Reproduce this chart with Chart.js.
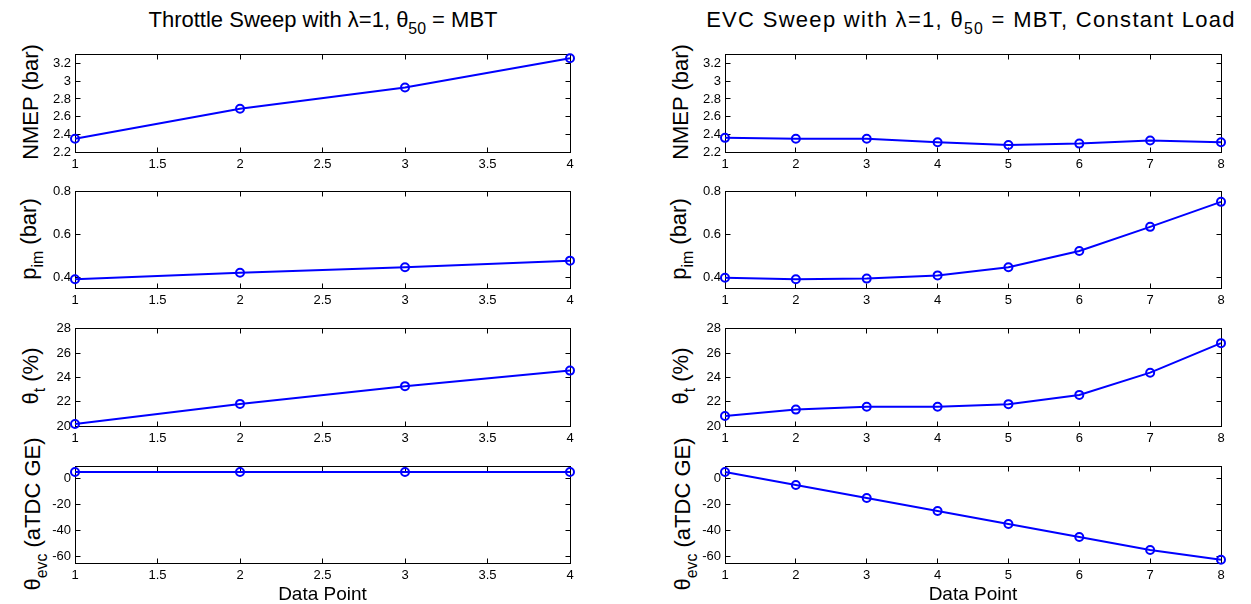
<!DOCTYPE html>
<html>
<head>
<meta charset="utf-8">
<script src="https://cdn.jsdelivr.net/npm/chart.js@4/dist/chart.umd.min.js"></script>
<style>
  body { margin: 0; background: #fff; width: 1251px; height: 604px; position: relative; overflow: hidden; font-family: "Liberation Sans", Arial, sans-serif; color: #000; }
  canvas { position: absolute; }
  .title, .ylab, .xlab { position: absolute; white-space: nowrap; font-size: 22px; line-height: 1; }
  .title { transform: translateX(-50%); }
  .ylab { transform: translate(-50%, -50%) rotate(-90deg); }
  sub { font-size: 0.72em; vertical-align: -0.42em; line-height: 0; }
</style>
</head>
<body>
<div class="title" style="left:323px; top:9px">Throttle Sweep with λ=1, θ<sub>50</sub> = MBT</div>
<div class="title" style="left:971px; top:9px; letter-spacing:1.3px">EVC Sweep with λ=1, θ<sub>50</sub> = MBT, Constant Load</div>

<div class="ylab" style="left:31px; top:102px">NMEP (bar)</div>
<div class="ylab" style="left:29px; top:239px">p<sub>im</sub> (bar)</div>
<div class="ylab" style="left:31px; top:376px">θ<sub>t</sub> (%)</div>
<div class="ylab" style="left:33px; top:514px">θ<sub>evc</sub> (aTDC GE)</div>

<div class="ylab" style="left:681px; top:102px">NMEP (bar)</div>
<div class="ylab" style="left:679px; top:239px">p<sub>im</sub> (bar)</div>
<div class="ylab" style="left:681px; top:376px">θ<sub>t</sub> (%)</div>
<div class="ylab" style="left:683px; top:514px">θ<sub>evc</sub> (aTDC GE)</div>

<canvas id="t1"></canvas><canvas id="t2"></canvas><canvas id="t3"></canvas><canvas id="t4"></canvas>
<canvas id="e1"></canvas><canvas id="e2"></canvas><canvas id="e3"></canvas><canvas id="e4"></canvas>

<script>
// data points (x)
const throttlePoints = [1, 2, 3, 4];
const evcPoints = [1, 2, 3, 4, 5, 6, 7, 8];

// throttle sweep
const throttleNmep = [2.35, 2.69, 2.93, 3.26];
const throttlePim = [0.391, 0.421, 0.447, 0.478];
const throttleThetaT = [20.16, 21.82, 23.28, 24.56];
const throttleThetaEvc = [5, 5, 5, 5];

// evc sweep
const evcNmep = [2.36, 2.35, 2.35, 2.31, 2.28, 2.295, 2.33, 2.31];
const evcPim = [0.398, 0.391, 0.394, 0.409, 0.447, 0.523, 0.636, 0.753];
const evcThetaT = [20.83, 21.35, 21.59, 21.59, 21.8, 22.56, 24.39, 26.82];
const evcThetaEvc = [5, -5, -15, -25, -35, -45, -55, -62.5];

// tick labels
const throttleXTicks = [1, 1.5, 2, 2.5, 3, 3.5, 4];
const evcXTicks = [1, 2, 3, 4, 5, 6, 7, 8];
const nmepTicks = [2.2, 2.4, 2.6, 2.8, 3, 3.2];
const pimTicks = [0.4, 0.6, 0.8];
const thetaTTicks = [20, 22, 24, 26, 28];
const thetaEvcTicks = [-60, -40, -20, 0];

const FONT = "'Liberation Sans', Arial, sans-serif";
const Y_AXIS_W = 50, PAD_TOP = 10, PAD_RIGHT = 15;

// matlab style box with inward ticks on all sides
const boxPlugin = {
  id: 'box',
  beforeDatasetsDraw(chart) {
    const { ctx, chartArea, scales } = chart;
    const l = Math.floor(chartArea.left) + 0.5, r = Math.floor(chartArea.right) + 0.5;
    const t = Math.floor(chartArea.top) + 0.5, b = Math.floor(chartArea.bottom) + 0.5;
    ctx.save();
    ctx.strokeStyle = '#000';
    ctx.lineWidth = 1;
    ctx.beginPath();
    scales.x.ticks.forEach(tk => {
      const px = Math.floor(scales.x.getPixelForValue(tk.value)) + 0.5;
      ctx.moveTo(px, b); ctx.lineTo(px, b - 5);
      ctx.moveTo(px, t); ctx.lineTo(px, t + 5);
    });
    scales.y.ticks.forEach(tk => {
      const py = Math.floor(scales.y.getPixelForValue(tk.value)) + 0.5;
      ctx.moveTo(l, py); ctx.lineTo(l + 5, py);
      ctx.moveTo(r, py); ctx.lineTo(r - 5, py);
    });
    ctx.stroke();
    ctx.strokeRect(l, t, r - l, b - t);
    ctx.restore();
  }
};

function fmt(v) { return String(Math.round(v * 10) / 10); }

function makeChart(id, rect, xs, ys, xTicks, yTicks, yMin, yMax, bottomRow) {
  const xAxisH = bottomRow ? 43 : 25;
  const canvas = document.getElementById(id);
  const w = Y_AXIS_W + rect.w + PAD_RIGHT;
  const h = PAD_TOP + rect.h + xAxisH;
  canvas.width = w; canvas.height = h;
  canvas.style.left = (rect.l - Y_AXIS_W) + 'px';
  canvas.style.top = (rect.t - PAD_TOP) + 'px';
  canvas.style.width = w + 'px'; canvas.style.height = h + 'px';

  return new Chart(canvas.getContext('2d'), {
    type: 'line',
    data: {
      datasets: [{
        data: xs.map((x, i) => ({ x: x, y: ys[i] })),
        borderColor: '#0000ff',
        borderWidth: 2,
        tension: 0,
        pointRadius: 4,
        pointBorderWidth: 2,
        pointBorderColor: '#0000ff',
        pointBackgroundColor: 'rgba(0,0,0,0)',
        clip: false
      }]
    },
    options: {
      responsive: false,
      animation: false,
      events: [],
      layout: { padding: { top: PAD_TOP, right: PAD_RIGHT, left: 0, bottom: 0 } },
      plugins: { legend: { display: false }, tooltip: { enabled: false } },
      scales: {
        x: {
          type: 'linear',
          min: xTicks[0],
          max: xTicks[xTicks.length - 1],
          grid: { display: false, drawTicks: false },
          border: { display: false },
          afterBuildTicks: s => { s.ticks = xTicks.map(v => ({ value: v })); },
          afterFit: s => { s.height = xAxisH; },
          ticks: { autoSkip: false, maxRotation: 0, padding: 5, color: '#000', font: { family: FONT, size: 13 }, callback: fmt },
          title: { display: bottomRow, text: 'Data Point', color: '#000', font: { family: FONT, size: 19 }, padding: { top: 2, bottom: 0 } }
        },
        y: {
          min: yMin,
          max: yMax,
          grid: { display: false, drawTicks: false },
          border: { display: false },
          afterBuildTicks: s => { s.ticks = yTicks.map(v => ({ value: v })); },
          afterFit: s => { s.width = Y_AXIS_W; },
          ticks: { autoSkip: false, padding: 4, color: '#000', font: { family: FONT, size: 13 }, callback: fmt }
        }
      }
    },
    plugins: [boxPlugin]
  });
}

const leftCol = { l: 75, w: 495 };
const rightCol = { l: 725, w: 496 };
const rows = [{ t: 53, h: 99 }, { t: 190, h: 98 }, { t: 327, h: 99 }, { t: 465, h: 98 }];
function rect(col, row) { return { l: col.l, w: col.w, t: rows[row].t, h: rows[row].h }; }

makeChart('t1', rect(leftCol, 0), throttlePoints, throttleNmep, throttleXTicks, nmepTicks, 2.2, 3.3, false);
makeChart('t2', rect(leftCol, 1), throttlePoints, throttlePim, throttleXTicks, pimTicks, 0.35, 0.8, false);
makeChart('t3', rect(leftCol, 2), throttlePoints, throttleThetaT, throttleXTicks, thetaTTicks, 20, 28, false);
makeChart('t4', rect(leftCol, 3), throttlePoints, throttleThetaEvc, throttleXTicks, thetaEvcTicks, -65, 9, true);

makeChart('e1', rect(rightCol, 0), evcPoints, evcNmep, evcXTicks, nmepTicks, 2.2, 3.3, false);
makeChart('e2', rect(rightCol, 1), evcPoints, evcPim, evcXTicks, pimTicks, 0.35, 0.8, false);
makeChart('e3', rect(rightCol, 2), evcPoints, evcThetaT, evcXTicks, thetaTTicks, 20, 28, false);
makeChart('e4', rect(rightCol, 3), evcPoints, evcThetaEvc, evcXTicks, thetaEvcTicks, -65, 9, true);
</script>
</body>
</html>
